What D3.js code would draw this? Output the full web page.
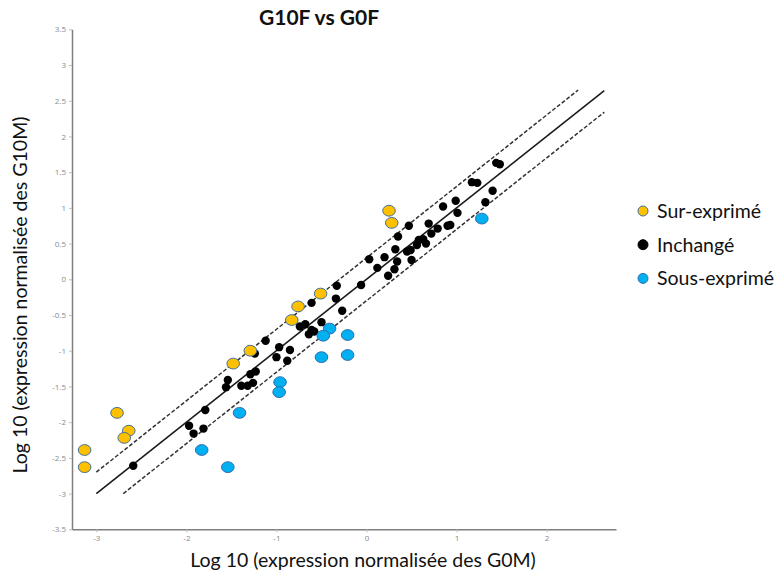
<!DOCTYPE html>
<html>
<head>
<meta charset="utf-8">
<script src="https://cdn.jsdelivr.net/npm/d3@7"></script>
<style>
  body { margin: 0; background: #fff; }
  svg { display: block; }
  .tick text { fill: #8a8a8a; font-family: "Open Sans", sans-serif; font-size: 8px; }
</style>
</head>
<body>
<div id="chart"></div>
<script>
// values: [log10 G0M, log10 G10M]
const surExprime = [
  [-3.13, -2.39], [-3.13, -2.63], [-2.77, -1.87], [-2.64, -2.12], [-2.69, -2.22],
  [-1.48, -1.18], [-1.29, -1.00], [-0.83, -0.57], [-0.76, -0.38], [-0.51, -0.20],
  [0.25, 0.96], [0.28, 0.79]
];
const sousExprime = [
  [-1.83, -2.39], [-1.54, -2.63], [-1.41, -1.87], [-0.96, -1.44], [-0.97, -1.58],
  [-0.50, -1.09], [-0.21, -1.06], [-0.41, -0.69], [-0.48, -0.79], [-0.21, -0.78],
  [1.28, 0.85]
];
const inchange = [
  [1.44, 1.63], [1.48, 1.61], [1.17, 1.36], [1.23, 1.35], [1.40, 1.24], [1.32, 1.08],
  [0.99, 1.10], [0.85, 1.02], [1.01, 0.93], [0.69, 0.78], [0.47, 0.75], [0.79, 0.71],
  [0.90, 0.75], [0.93, 0.76], [0.72, 0.64], [0.35, 0.60], [0.58, 0.55], [0.63, 0.56],
  [0.66, 0.50], [0.56, 0.48], [0.49, 0.41], [0.45, 0.39], [0.32, 0.42], [0.20, 0.31],
  [0.03, 0.28], [0.34, 0.25], [0.50, 0.27], [0.12, 0.16], [0.31, 0.14], [0.24, 0.05],
  [-0.33, -0.09], [-0.06, -0.08], [-0.34, -0.27], [-0.61, -0.33], [-0.27, -0.44],
  [-0.50, -0.60], [-0.74, -0.66], [-0.68, -0.63], [-0.61, -0.71], [-0.64, -0.77],
  [-0.58, -0.73],
  [-2.59, -2.61], [-1.97, -2.05], [-1.92, -2.16], [-1.81, -2.09], [-1.79, -1.83],
  [-1.56, -1.51], [-1.54, -1.41], [-1.39, -1.49], [-1.32, -1.49], [-1.26, -1.45],
  [-1.29, -1.33], [-1.23, -1.29], [-1.24, -1.04], [-1.12, -0.86], [-0.97, -0.95],
  [-1.00, -1.09], [-0.85, -0.99], [-0.88, -1.14]
];
// y = x and the +/- 0.3 band
const diagonale = [[-3, -3], [2.64, 2.64]];
const bandeHaute = [[-3, -2.7], [2.35, 2.65]];
const bandeBasse = [[-2.7, -3], [2.64, 2.34]];

const xTicks = [-3, -2, -1, 0, 1, 2];
const yTicks = [-3.5, -3, -2.5, -2, -1.5, -1, -0.5, 0, 0.5, 1, 1.5, 2, 2.5, 3, 3.5];
const legendItems = [
  { name: "Sur-exprimé", fill: "#ffc000", stroke: "#41719c" },
  { name: "Inchangé", fill: "#000000", stroke: "#000000" },
  { name: "Sous-exprimé", fill: "#00b0f0", stroke: "#2f6fb0" }
];

const width = 774, height = 573;
const font = "Lato, 'Open Sans', sans-serif";

const svg = d3.select("#chart").append("svg")
  .attr("width", width)
  .attr("height", height);

const scaleX = d3.scaleLinear().domain([-3.27, 2.77]).range([72, 616]);
const scaleY = d3.scaleLinear().domain([-3.5, 3.5]).range([529.3, 29.3]);

//=================================================
// Axes
//=================================================
const axisX = svg.append("g")
  .attr("transform", "translate(0," + scaleY(-3.5) + ")")
  .call(d3.axisBottom(scaleX).tickValues(xTicks).tickFormat(d => String(d)).tickSize(3).tickSizeOuter(0).tickPadding(3));
const axisY = svg.append("g")
  .attr("transform", "translate(" + scaleX(-3.27) + ",0)")
  .call(d3.axisLeft(scaleY).tickValues(yTicks).tickFormat(d => String(d)).tickSize(3).tickSizeOuter(0).tickPadding(3));
[axisX, axisY].forEach(a => {
  a.select(".domain").attr("stroke", "#7f7f7f").attr("stroke-width", 1.5);
  a.selectAll(".tick line").attr("stroke", "#bdbdbd");
});

//=================================================
// Reference lines
//=================================================
const line = d3.line().x(d => scaleX(d[0])).y(d => scaleY(d[1]));
svg.append("path").attr("d", line(diagonale))
  .attr("stroke", "#1a1a1a").attr("stroke-width", 1.6).attr("fill", "none");
[bandeHaute, bandeBasse].forEach(b => {
  svg.append("path").attr("d", line(b))
    .attr("stroke", "#333").attr("stroke-width", 1.5).attr("fill", "none")
    .attr("stroke-dasharray", "4,2");
});

//=================================================
// Points
//=================================================
svg.append("g").selectAll("circle").data(inchange).join("circle")
  .attr("cx", d => scaleX(d[0])).attr("cy", d => scaleY(d[1]))
  .attr("r", 4.2).attr("fill", "#000");

function addSeries(data, item) {
  svg.append("g").selectAll("ellipse").data(data).join("ellipse")
    .attr("cx", d => scaleX(d[0])).attr("cy", d => scaleY(d[1]))
    .attr("rx", 6.3).attr("ry", 5.4)
    .attr("fill", item.fill).attr("stroke", item.stroke).attr("stroke-width", 1);
}
addSeries(surExprime, legendItems[0]);
addSeries(sousExprime, legendItems[2]);

//=================================================
// Texts
//=================================================
svg.append("text")
  .attr("x", 319).attr("y", 25)
  .attr("text-anchor", "middle")
  .attr("font-family", font).attr("font-weight", "bold").attr("font-size", 21)
  .attr("fill", "#111")
  .text("G10F vs G0F");

svg.append("text")
  .attr("x", 363).attr("y", 567)
  .attr("text-anchor", "middle")
  .attr("font-family", font).attr("font-size", 19.5).attr("fill", "#111")
  .text("Log 10 (expression normalisée des G0M)");

svg.append("text")
  .attr("transform", "translate(27,295) rotate(-90)")
  .attr("text-anchor", "middle")
  .attr("font-family", font).attr("font-size", 19.5).attr("fill", "#111")
  .text("Log 10 (expression normalisée des G10M)");

//=================================================
// Legend
//=================================================
const legend = svg.append("g").attr("transform", "translate(643,211)");
legendItems.forEach((item, i) => {
  const row = legend.append("g").attr("transform", "translate(0," + (i * 33.7) + ")");
  row.append("circle").attr("r", 5)
    .attr("fill", item.fill).attr("stroke", item.stroke).attr("stroke-width", 1);
  row.append("text")
    .attr("x", 14).attr("y", 7)
    .attr("font-family", font).attr("font-size", 19.5).attr("fill", "#111")
    .text(item.name);
});
</script>
</body>
</html>
